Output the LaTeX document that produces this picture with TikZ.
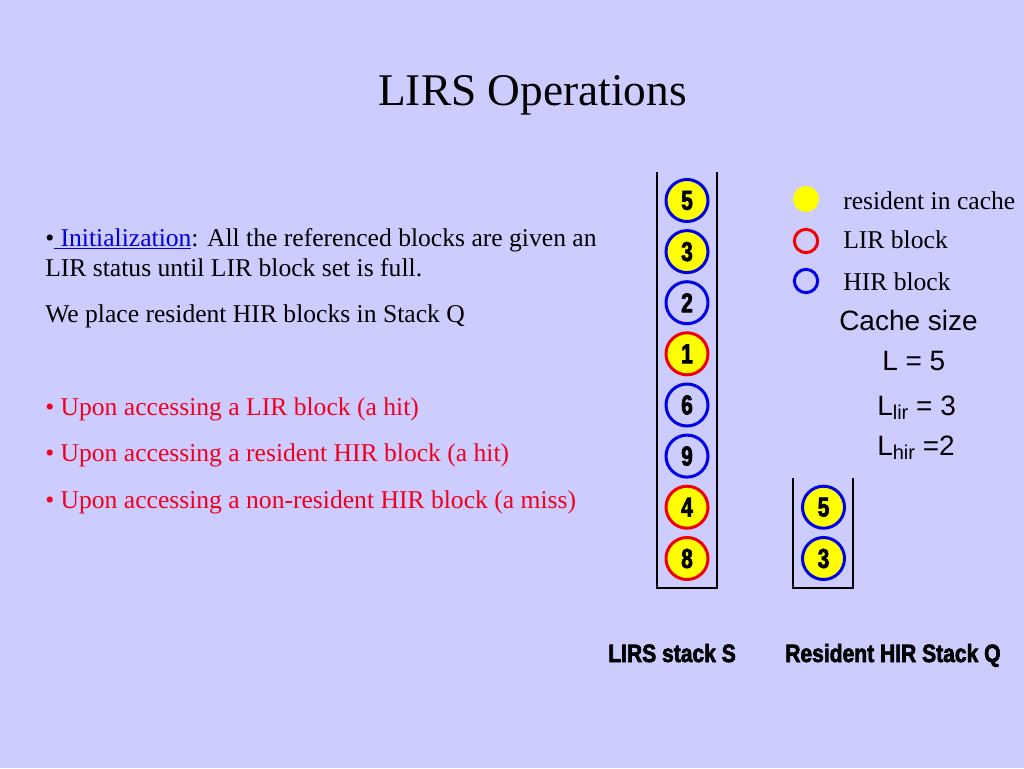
\documentclass[tikz,border=0pt]{standalone}
\usepackage{fontspec}
\setmainfont{Liberation Serif}
\newfontfamily\arialf{Liberation Sans}
\newfontfamily\condf[FakeStretch=0.84,FakeBold=2.5]{Liberation Sans Bold}
\newfontfamily\digitf[FakeStretch=0.76,FakeBold=2.5]{Liberation Sans Bold}
\definecolor{bgc}{RGB}{204,204,255}
\definecolor{ylw}{RGB}{255,255,0}
\definecolor{rd}{RGB}{240,0,0}
\definecolor{bl}{RGB}{0,0,230}
\definecolor{linkblue}{RGB}{0,0,220}
\definecolor{txtred}{RGB}{240,0,30}
\tikzset{
  ring/.style={circle, minimum size=31.5pt, inner sep=0pt, line width=2.25pt,
    font=\digitf\fontsize{20.5}{20.5}\selectfont},
  lirres/.style={ring, draw=rd, fill=ylw},
  hirres/.style={ring, draw=bl, fill=ylw},
  hirnon/.style={ring, draw=bl},
  wall/.style={line width=1.6pt, black},
  body/.style={anchor=base west, inner sep=0pt, font=\fontsize{19.2}{23}\selectfont},
  redtxt/.style={body, text=txtred},
  sanstxt/.style={anchor=base west, inner sep=0pt, font=\arialf\fontsize{21}{25}\selectfont},
  stacklbl/.style={anchor=base west, inner sep=0pt, font=\condf\fontsize{18.8}{20}\selectfont},
  legdot/.style={circle, minimum size=19.5pt, inner sep=0pt},
}
\begin{document}
\begin{tikzpicture}[x=0.75pt,y=-0.75pt]
\fill[bgc] (0,0) rectangle (1024,768);
\useasboundingbox (0,0) rectangle (1024,768);

% title
\node[anchor=base west, inner sep=0pt, font=\fontsize{34}{40}\selectfont] (title) at (378,105) {LIRS Operations};

% left text
\node[body] (init1) at (45,246) {\textbullet\textcolor{linkblue}{\underline{~Initialization}}: All the referenced blocks are given an};
\node[body] (init2) at (45,276) {LIR status until LIR block set is full.};
\node[body] (place) at (45,322) {We place resident HIR blocks in Stack Q};
\node[redtxt] (r1) at (45,415) {\textbullet\ Upon accessing a LIR block (a hit)};
\node[redtxt] (r2) at (45,461) {\textbullet\ Upon accessing a resident HIR block (a hit)};
\node[redtxt] (r3) at (45,508) {\textbullet\ Upon accessing a non-resident HIR block (a miss)};

% stack S
\coordinate (sTL) at (657,172);
\coordinate (sBL) at (657,588);
\coordinate (sBR) at (717,588);
\coordinate (sTR) at (717,172);
\draw[wall] (sTL) -- (sBL) -- (sBR) -- (sTR);
\node[hirres] (s5) at (687,200.5) {5};
\node[hirres] (s3) at (687,251.6) {3};
\node[hirnon] (s2) at (687,302.7) {2};
\node[lirres] (s1) at (687,353.8) {1};
\node[hirnon] (s6) at (687,405) {6};
\node[hirnon] (s9) at (687,456.1) {9};
\node[lirres] (s4) at (687,507.2) {4};
\node[lirres] (s8) at (687,558.5) {8};

% stack Q
\coordinate (qTL) at (793,478);
\coordinate (qBL) at (793,588);
\coordinate (qBR) at (853,588);
\coordinate (qTR) at (853,478);
\draw[wall] (qTL) -- (qBL) -- (qBR) -- (qTR);
\node[hirres] (q5) at (823.5,507.2) {5};
\node[hirres] (q3) at (823.5,558.5) {3};

% legend
\node[legdot, fill=ylw] (lg1) at (806,199) {};
\node[legdot, minimum size=17.5pt, draw=rd, line width=2.25pt] (lg2) at (806,241) {};
\node[legdot, minimum size=17.5pt, draw=bl, line width=2.25pt] (lg3) at (806,281) {};
\node[body] (lt1) at (843,209) {resident in cache};
\node[body] (lt2) at (843,248) {LIR block};
\node[body] (lt3) at (843,290) {HIR block};

\node[sanstxt] (cs) at (839,330) {Cache size};
\node[sanstxt] (L5) at (882,370) {L = 5};
\node[sanstxt] (Llir) at (877,415) {L\raisebox{-3.5pt}{\fontsize{15}{15}\selectfont lir} = 3};
\node[sanstxt] (Lhir) at (877,455) {L\raisebox{-3.5pt}{\fontsize{15}{15}\selectfont hir} =2};

% stack labels
\node[stacklbl] (labS) at (608,662) {LIRS stack S};
\node[stacklbl] (labQ) at (785,662) {Resident HIR Stack Q};
\end{tikzpicture}
\end{document}
